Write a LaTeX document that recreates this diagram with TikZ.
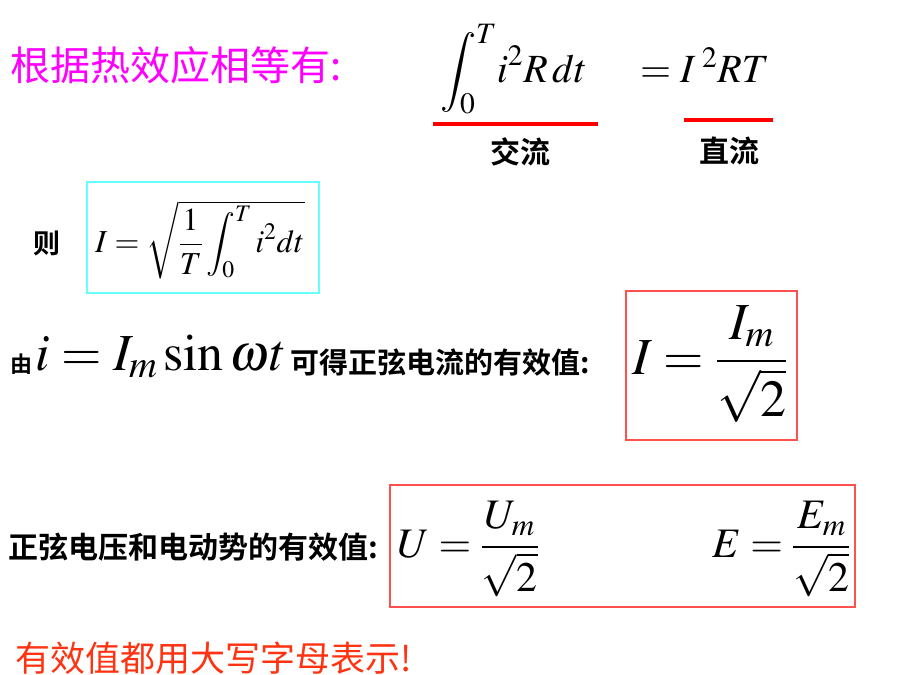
\documentclass[tikz,border=0pt]{standalone}
\usepackage{amsmath}
\usepackage{mathptmx}
\usepackage{fontspec}
\newfontfamily\cjk{Noto Sans CJK SC}[BoldFont={Noto Sans CJK SC Bold}]
\definecolor{titlemag}{HTML}{FF00FF}
\definecolor{boxcyan}{HTML}{66FFFF}
\definecolor{boxred}{HTML}{FF5050}
\definecolor{notered}{HTML}{FF3311}
\tikzset{
  cn/.style={font=\cjk\fontsize{#1}{#1}\selectfont, inner sep=0pt},
  cn/.default=28,
  cnb/.style={font=\cjk\bfseries\fontsize{#1}{#1}\selectfont, inner sep=0pt},
  cnb/.default=26,
  mth/.style={font=\fontsize{#1}{#1}\selectfont, inner sep=0pt},
  mth/.default=40,
  redline/.style={red, line width=3.5pt},
  fbox/.style={draw=#1, line width=1.2pt, inner sep=0pt}
}
\begin{document}
\begin{tikzpicture}[x=1pt,y=-1pt]
    \useasboundingbox (0,0) rectangle (900,675);
    % heading
    \node[cn=40, text=titlemag, anchor=west] (title) at (10,65) {根据热效应相等有:};
    \node[mth=40, anchor=base west] (acint) at (440,82) {$\displaystyle\int_0^T\! i^2R\,dt$};
    \node[mth=40, anchor=base west] (dcpow) at (640,82) {$=I^{\;2}RT$};
    \coordinate (acL) at (433,124); \coordinate (acR) at (598,124);
    \coordinate (dcL) at (684,120); \coordinate (dcR) at (773,120);
    \draw[redline] (acL) -- (acR) (dcL) -- (dcR);
    \node[cnb=30] (aclab) at (520,152) {交流};
    \node[cnb=30] (dclab) at (729,151) {直流};
    % rms definition
    \node[cnb=27] (ze) at (47,243) {则};
    \node[fbox=boxcyan, minimum width=232pt, minimum height=111pt] (cybox) at (203,237.5) {};
    \node[mth=32, anchor=west] (rmsint) at (95,240) {$I=\sqrt{\dfrac1T\displaystyle\int_0^T i^2dt}$};
    % sine current
    \node[cnb=22] (you) at (21,364) {由};
    \node[mth=52, anchor=base west] (sinexpr) at (35,370) {$i=I_m\sin\omega t$};
    \node[cnb=29, anchor=west] (curtxt) at (290,363) {可得正弦电流的有效值:};
    \node[fbox=boxred, minimum width=171pt, minimum height=149pt] (ibox) at (711.5,365.5) {};
    \node[mth=52] (Irms) at (710,364) {$I=\dfrac{I_m}{\sqrt2}$};
    % voltage and emf
    \node[cnb=30, anchor=west] (voltxt) at (8,547) {正弦电压和电动势的有效值:};
    \node[fbox=boxred, minimum width=465pt, minimum height=122pt] (uebox) at (622.5,546) {};
    \node[mth=42, anchor=west] (Urms) at (397,549) {$U=\dfrac{U_m}{\sqrt2}$};
    \node[mth=42, anchor=west] (Erms) at (712,549) {$E=\dfrac{E_m}{\sqrt2}$};
    % note
    \node[cn=35, text=notered, anchor=west] (note) at (15,658) {有效值都用大写字母表示!};
\end{tikzpicture}
\end{document}
